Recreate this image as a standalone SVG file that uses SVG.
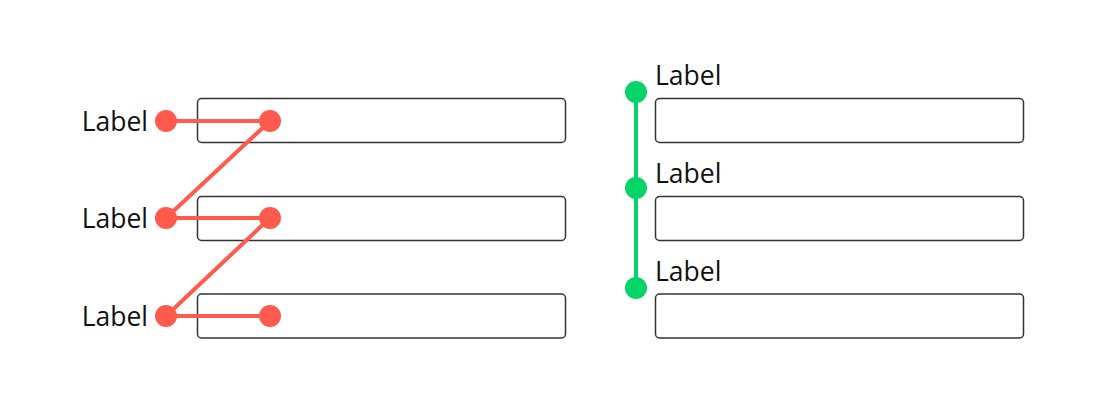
<svg xmlns="http://www.w3.org/2000/svg" width="1115" height="419" viewBox="0 0 1115 419">
<style>
.box{fill:#fff;stroke:#333;stroke-width:1.5}
.lbl{font-family:"Open Sans","Noto Sans",sans-serif;font-size:26.5px;fill:#111}
.red{stroke:#ff5b4c;stroke-width:4;fill:none;stroke-linecap:round}
.green{stroke:#05d468;stroke-width:4;fill:none}
.rdot{fill:#ff5b4c}
.gdot{fill:#05d468}
</style>
<rect x="0" y="0" width="1115" height="419" fill="#ffffff"/>
<g id="left-row-1">
<rect class="box" x="197.5" y="98.5" width="368" height="44" rx="4"/>
<text class="lbl" x="148" y="131" text-anchor="end">Label</text>
</g>
<g id="left-row-2">
<rect class="box" x="197.5" y="196.5" width="368" height="44" rx="4"/>
<text class="lbl" x="148" y="228" text-anchor="end">Label</text>
</g>
<g id="left-row-3">
<rect class="box" x="197.5" y="294" width="368" height="44" rx="4"/>
<text class="lbl" x="148" y="326" text-anchor="end">Label</text>
</g>
<g id="right-row-1">
<rect class="box" x="655.5" y="98.5" width="368" height="44" rx="4"/>
<text class="lbl" x="655" y="85">Label</text>
</g>
<g id="right-row-2">
<rect class="box" x="655.5" y="196.5" width="368" height="44" rx="4"/>
<text class="lbl" x="655" y="183">Label</text>
</g>
<g id="right-row-3">
<rect class="box" x="655.5" y="294" width="368" height="44" rx="4"/>
<text class="lbl" x="655" y="281">Label</text>
</g>
<g id="connectors">
<polyline class="red" points="166,121 270,121 166,218 270,218 166,316 270,316"/>
<circle class="rdot" cx="166" cy="121" r="11"/>
<circle class="rdot" cx="270" cy="121" r="11"/>
<circle class="rdot" cx="166" cy="218" r="11"/>
<circle class="rdot" cx="270" cy="218" r="11"/>
<circle class="rdot" cx="166" cy="316" r="11"/>
<circle class="rdot" cx="270" cy="316" r="11"/>
<line class="green" x1="636" y1="92" x2="636" y2="288"/>
<circle class="gdot" cx="636" cy="92" r="11"/>
<circle class="gdot" cx="636" cy="188" r="11"/>
<circle class="gdot" cx="636" cy="288" r="11"/>
</g>
</svg>
